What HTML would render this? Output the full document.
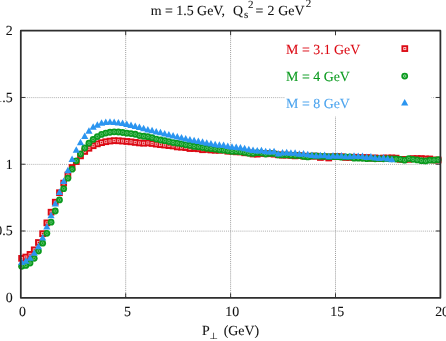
<!DOCTYPE html>
<html lang="en"><head><meta charset="utf-8"><title>plot</title>
<style>
html,body{margin:0;padding:0;background:#fff;overflow:hidden}
body{width:446px;height:341px}
svg{display:block;will-change:transform;transform:translateZ(0);-webkit-font-smoothing:antialiased;text-rendering:geometricPrecision}
</style>
</head><body>
<svg width="446" height="341" viewBox="0 0 446 341">
<rect width="446" height="341" fill="#fff"/>
<g stroke="#9c9c9c" stroke-width="1" stroke-dasharray="1 1" fill="none">
<path d="M21 231.14H440.4" stroke="#a2a2a2" stroke-width="0.85" stroke-dasharray="1 1.05"/>
<path d="M21 164.38H440.4" stroke="#a2a2a2" stroke-width="0.85" stroke-dasharray="1 1.05"/>
<path d="M21 97.61H440.4" stroke="#a2a2a2" stroke-width="0.85" stroke-dasharray="1 1.05"/>
<path d="M125.70 297V30.7" stroke="#909090" stroke-width="0.9" stroke-dasharray="1 1.05"/>
<path d="M230.60 297V30.7" stroke="#909090" stroke-width="0.9" stroke-dasharray="1 1.05"/>
<path d="M335.50 297V30.7" stroke="#909090" stroke-width="0.9" stroke-dasharray="1 1.05"/>
</g>
<rect x="285" y="35.5" width="146.5" height="81" fill="#fff"/>
<g fill="#dc0a14">
<rect x="18.25" y="255.02" width="6.7" height="6.7"/>
<rect x="22.46" y="253.68" width="6.7" height="6.7"/>
<rect x="26.67" y="251.01" width="6.7" height="6.7"/>
<rect x="30.87" y="246.47" width="6.7" height="6.7"/>
<rect x="35.08" y="239.14" width="6.7" height="6.7"/>
<rect x="39.29" y="230.33" width="6.7" height="6.7"/>
<rect x="43.50" y="219.52" width="6.7" height="6.7"/>
<rect x="47.71" y="208.84" width="6.7" height="6.7"/>
<rect x="51.91" y="198.83" width="6.7" height="6.7"/>
<rect x="56.12" y="189.36" width="6.7" height="6.7"/>
<rect x="60.33" y="179.75" width="6.7" height="6.7"/>
<rect x="64.54" y="171.61" width="6.7" height="6.7"/>
<rect x="68.75" y="164.14" width="6.7" height="6.7"/>
<rect x="72.95" y="158.26" width="6.7" height="6.7"/>
<rect x="77.16" y="152.53" width="6.7" height="6.7"/>
<rect x="81.37" y="148.12" width="6.7" height="6.7"/>
<rect x="85.58" y="144.92" width="6.7" height="6.7"/>
<rect x="89.79" y="142.38" width="6.7" height="6.7"/>
<rect x="93.99" y="140.52" width="6.7" height="6.7"/>
<rect x="98.20" y="139.31" width="6.7" height="6.7"/>
<rect x="102.41" y="138.38" width="6.7" height="6.7"/>
<rect x="106.62" y="137.71" width="6.7" height="6.7"/>
<rect x="110.83" y="137.31" width="6.7" height="6.7"/>
<rect x="115.03" y="137.45" width="6.7" height="6.7"/>
<rect x="119.24" y="137.71" width="6.7" height="6.7"/>
<rect x="123.45" y="138.11" width="6.7" height="6.7"/>
<rect x="127.66" y="138.51" width="6.7" height="6.7"/>
<rect x="131.87" y="139.05" width="6.7" height="6.7"/>
<rect x="136.07" y="139.58" width="6.7" height="6.7"/>
<rect x="140.28" y="139.85" width="6.7" height="6.7"/>
<rect x="144.49" y="139.58" width="6.7" height="6.7"/>
<rect x="148.70" y="140.12" width="6.7" height="6.7"/>
<rect x="152.91" y="140.78" width="6.7" height="6.7"/>
<rect x="157.11" y="141.32" width="6.7" height="6.7"/>
<rect x="161.32" y="141.72" width="6.7" height="6.7"/>
<rect x="165.53" y="142.25" width="6.7" height="6.7"/>
<rect x="169.74" y="142.65" width="6.7" height="6.7"/>
<rect x="173.95" y="143.58" width="6.7" height="6.7"/>
<rect x="178.15" y="143.85" width="6.7" height="6.7"/>
<rect x="182.36" y="144.25" width="6.7" height="6.7"/>
<rect x="186.57" y="145.19" width="6.7" height="6.7"/>
<rect x="190.78" y="145.19" width="6.7" height="6.7"/>
<rect x="194.99" y="145.45" width="6.7" height="6.7"/>
<rect x="199.19" y="146.39" width="6.7" height="6.7"/>
<rect x="203.40" y="146.12" width="6.7" height="6.7"/>
<rect x="207.61" y="146.65" width="6.7" height="6.7"/>
<rect x="211.82" y="146.92" width="6.7" height="6.7"/>
<rect x="216.03" y="146.92" width="6.7" height="6.7"/>
<rect x="220.23" y="146.65" width="6.7" height="6.7"/>
<rect x="224.44" y="147.86" width="6.7" height="6.7"/>
<rect x="228.65" y="147.86" width="6.7" height="6.7"/>
<rect x="232.86" y="148.52" width="6.7" height="6.7"/>
<rect x="237.07" y="148.52" width="6.7" height="6.7"/>
<rect x="241.27" y="149.46" width="6.7" height="6.7"/>
<rect x="245.48" y="149.46" width="6.7" height="6.7"/>
<rect x="249.69" y="150.66" width="6.7" height="6.7"/>
<rect x="253.90" y="150.79" width="6.7" height="6.7"/>
<rect x="258.11" y="150.12" width="6.7" height="6.7"/>
<rect x="262.31" y="150.39" width="6.7" height="6.7"/>
<rect x="266.52" y="150.39" width="6.7" height="6.7"/>
<rect x="270.73" y="150.79" width="6.7" height="6.7"/>
<rect x="274.94" y="151.46" width="6.7" height="6.7"/>
<rect x="279.15" y="151.86" width="6.7" height="6.7"/>
<rect x="283.35" y="151.73" width="6.7" height="6.7"/>
<rect x="287.56" y="151.99" width="6.7" height="6.7"/>
<rect x="291.77" y="152.53" width="6.7" height="6.7"/>
<rect x="295.98" y="152.26" width="6.7" height="6.7"/>
<rect x="300.19" y="152.79" width="6.7" height="6.7"/>
<rect x="304.39" y="153.06" width="6.7" height="6.7"/>
<rect x="308.60" y="152.79" width="6.7" height="6.7"/>
<rect x="312.81" y="152.79" width="6.7" height="6.7"/>
<rect x="317.02" y="154.13" width="6.7" height="6.7"/>
<rect x="321.23" y="153.46" width="6.7" height="6.7"/>
<rect x="325.43" y="154.66" width="6.7" height="6.7"/>
<rect x="329.64" y="153.33" width="6.7" height="6.7"/>
<rect x="333.85" y="153.33" width="6.7" height="6.7"/>
<rect x="338.06" y="153.33" width="6.7" height="6.7"/>
<rect x="342.27" y="154.13" width="6.7" height="6.7"/>
<rect x="346.47" y="154.13" width="6.7" height="6.7"/>
<rect x="350.68" y="153.86" width="6.7" height="6.7"/>
<rect x="354.89" y="154.13" width="6.7" height="6.7"/>
<rect x="359.10" y="154.39" width="6.7" height="6.7"/>
<rect x="363.31" y="154.13" width="6.7" height="6.7"/>
<rect x="367.51" y="154.93" width="6.7" height="6.7"/>
<rect x="371.72" y="154.53" width="6.7" height="6.7"/>
<rect x="375.93" y="155.06" width="6.7" height="6.7"/>
<rect x="380.14" y="154.66" width="6.7" height="6.7"/>
<rect x="384.35" y="154.66" width="6.7" height="6.7"/>
<rect x="388.55" y="154.53" width="6.7" height="6.7"/>
<rect x="392.76" y="154.79" width="6.7" height="6.7"/>
<rect x="396.97" y="156.00" width="6.7" height="6.7"/>
<rect x="401.18" y="156.00" width="6.7" height="6.7"/>
<rect x="405.39" y="156.00" width="6.7" height="6.7"/>
<rect x="409.59" y="155.20" width="6.7" height="6.7"/>
<rect x="413.80" y="155.20" width="6.7" height="6.7"/>
<rect x="418.01" y="155.20" width="6.7" height="6.7"/>
<rect x="422.22" y="155.60" width="6.7" height="6.7"/>
<rect x="426.43" y="155.60" width="6.7" height="6.7"/>
<rect x="430.63" y="156.66" width="6.7" height="6.7"/>
<rect x="434.84" y="156.66" width="6.7" height="6.7"/>
<rect x="401.45" y="45.25" width="6.7" height="6.7"/>
</g>
<g fill="none" stroke="#f7b9bc" stroke-width="0.75">
<rect x="20.55" y="257.32" width="2.1" height="2.1"/>
<rect x="24.76" y="255.98" width="2.1" height="2.1"/>
<rect x="28.97" y="253.31" width="2.1" height="2.1"/>
<rect x="33.17" y="248.77" width="2.1" height="2.1"/>
<rect x="37.38" y="241.44" width="2.1" height="2.1"/>
<rect x="41.59" y="232.63" width="2.1" height="2.1"/>
<rect x="45.80" y="221.82" width="2.1" height="2.1"/>
<rect x="50.01" y="211.14" width="2.1" height="2.1"/>
<rect x="54.21" y="201.13" width="2.1" height="2.1"/>
<rect x="58.42" y="191.66" width="2.1" height="2.1"/>
<rect x="62.63" y="182.05" width="2.1" height="2.1"/>
<rect x="66.84" y="173.91" width="2.1" height="2.1"/>
<rect x="71.05" y="166.44" width="2.1" height="2.1"/>
<rect x="75.25" y="160.56" width="2.1" height="2.1"/>
<rect x="79.46" y="154.83" width="2.1" height="2.1"/>
<rect x="83.67" y="150.42" width="2.1" height="2.1"/>
<rect x="87.88" y="147.22" width="2.1" height="2.1"/>
<rect x="92.09" y="144.68" width="2.1" height="2.1"/>
<rect x="96.29" y="142.82" width="2.1" height="2.1"/>
<rect x="100.50" y="141.61" width="2.1" height="2.1"/>
<rect x="104.71" y="140.68" width="2.1" height="2.1"/>
<rect x="108.92" y="140.01" width="2.1" height="2.1"/>
<rect x="113.13" y="139.61" width="2.1" height="2.1"/>
<rect x="117.33" y="139.75" width="2.1" height="2.1"/>
<rect x="121.54" y="140.01" width="2.1" height="2.1"/>
<rect x="125.75" y="140.41" width="2.1" height="2.1"/>
<rect x="129.96" y="140.81" width="2.1" height="2.1"/>
<rect x="134.17" y="141.35" width="2.1" height="2.1"/>
<rect x="138.37" y="141.88" width="2.1" height="2.1"/>
<rect x="142.58" y="142.15" width="2.1" height="2.1"/>
<rect x="146.79" y="141.88" width="2.1" height="2.1"/>
<rect x="151.00" y="142.42" width="2.1" height="2.1"/>
<rect x="155.21" y="143.08" width="2.1" height="2.1"/>
<rect x="159.41" y="143.62" width="2.1" height="2.1"/>
<rect x="163.62" y="144.02" width="2.1" height="2.1"/>
<rect x="167.83" y="144.55" width="2.1" height="2.1"/>
<rect x="172.04" y="144.95" width="2.1" height="2.1"/>
<rect x="176.25" y="145.88" width="2.1" height="2.1"/>
<rect x="180.45" y="146.15" width="2.1" height="2.1"/>
<rect x="184.66" y="146.55" width="2.1" height="2.1"/>
<rect x="188.87" y="147.49" width="2.1" height="2.1"/>
<rect x="193.08" y="147.49" width="2.1" height="2.1"/>
<rect x="197.29" y="147.75" width="2.1" height="2.1"/>
<rect x="201.49" y="148.69" width="2.1" height="2.1"/>
<rect x="205.70" y="148.42" width="2.1" height="2.1"/>
<rect x="209.91" y="148.95" width="2.1" height="2.1"/>
<rect x="214.12" y="149.22" width="2.1" height="2.1"/>
<rect x="218.33" y="149.22" width="2.1" height="2.1"/>
<rect x="222.53" y="148.95" width="2.1" height="2.1"/>
<rect x="226.74" y="150.16" width="2.1" height="2.1"/>
<rect x="230.95" y="150.16" width="2.1" height="2.1"/>
<rect x="235.16" y="150.82" width="2.1" height="2.1"/>
<rect x="239.37" y="150.82" width="2.1" height="2.1"/>
<rect x="243.57" y="151.76" width="2.1" height="2.1"/>
<rect x="247.78" y="151.76" width="2.1" height="2.1"/>
<rect x="251.99" y="152.96" width="2.1" height="2.1"/>
<rect x="256.20" y="153.09" width="2.1" height="2.1"/>
<rect x="260.41" y="152.42" width="2.1" height="2.1"/>
<rect x="264.61" y="152.69" width="2.1" height="2.1"/>
<rect x="268.82" y="152.69" width="2.1" height="2.1"/>
<rect x="273.03" y="153.09" width="2.1" height="2.1"/>
<rect x="277.24" y="153.76" width="2.1" height="2.1"/>
<rect x="281.45" y="154.16" width="2.1" height="2.1"/>
<rect x="285.65" y="154.03" width="2.1" height="2.1"/>
<rect x="289.86" y="154.29" width="2.1" height="2.1"/>
<rect x="294.07" y="154.83" width="2.1" height="2.1"/>
<rect x="298.28" y="154.56" width="2.1" height="2.1"/>
<rect x="302.49" y="155.09" width="2.1" height="2.1"/>
<rect x="306.69" y="155.36" width="2.1" height="2.1"/>
<rect x="310.90" y="155.09" width="2.1" height="2.1"/>
<rect x="315.11" y="155.09" width="2.1" height="2.1"/>
<rect x="319.32" y="156.43" width="2.1" height="2.1"/>
<rect x="323.53" y="155.76" width="2.1" height="2.1"/>
<rect x="327.73" y="156.96" width="2.1" height="2.1"/>
<rect x="331.94" y="155.63" width="2.1" height="2.1"/>
<rect x="336.15" y="155.63" width="2.1" height="2.1"/>
<rect x="340.36" y="155.63" width="2.1" height="2.1"/>
<rect x="344.57" y="156.43" width="2.1" height="2.1"/>
<rect x="348.77" y="156.43" width="2.1" height="2.1"/>
<rect x="352.98" y="156.16" width="2.1" height="2.1"/>
<rect x="357.19" y="156.43" width="2.1" height="2.1"/>
<rect x="361.40" y="156.69" width="2.1" height="2.1"/>
<rect x="365.61" y="156.43" width="2.1" height="2.1"/>
<rect x="369.81" y="157.23" width="2.1" height="2.1"/>
<rect x="374.02" y="156.83" width="2.1" height="2.1"/>
<rect x="378.23" y="157.36" width="2.1" height="2.1"/>
<rect x="382.44" y="156.96" width="2.1" height="2.1"/>
<rect x="386.65" y="156.96" width="2.1" height="2.1"/>
<rect x="390.85" y="156.83" width="2.1" height="2.1"/>
<rect x="395.06" y="157.09" width="2.1" height="2.1"/>
<rect x="399.27" y="158.30" width="2.1" height="2.1"/>
<rect x="403.48" y="158.30" width="2.1" height="2.1"/>
<rect x="407.69" y="158.30" width="2.1" height="2.1"/>
<rect x="411.89" y="157.50" width="2.1" height="2.1"/>
<rect x="416.10" y="157.50" width="2.1" height="2.1"/>
<rect x="420.31" y="157.50" width="2.1" height="2.1"/>
<rect x="424.52" y="157.90" width="2.1" height="2.1"/>
<rect x="428.73" y="157.90" width="2.1" height="2.1"/>
<rect x="432.93" y="158.96" width="2.1" height="2.1"/>
<rect x="437.14" y="158.96" width="2.1" height="2.1"/>
<rect x="403.75" y="47.55" width="2.1" height="2.1" stroke="#fbd9da" stroke-width="0.9"/>
</g>
<g fill="#0a9a1e">
<circle cx="21.60" cy="266.24" r="3.4"/>
<circle cx="25.81" cy="265.44" r="3.4"/>
<circle cx="30.02" cy="263.04" r="3.4"/>
<circle cx="34.22" cy="258.37" r="3.4"/>
<circle cx="38.43" cy="251.03" r="3.4"/>
<circle cx="42.64" cy="243.15" r="3.4"/>
<circle cx="46.85" cy="233.28" r="3.4"/>
<circle cx="51.06" cy="222.20" r="3.4"/>
<circle cx="55.26" cy="210.99" r="3.4"/>
<circle cx="59.47" cy="199.91" r="3.4"/>
<circle cx="63.68" cy="188.70" r="3.4"/>
<circle cx="67.89" cy="178.16" r="3.4"/>
<circle cx="72.10" cy="169.22" r="3.4"/>
<circle cx="76.30" cy="160.81" r="3.4"/>
<circle cx="80.51" cy="154.01" r="3.4"/>
<circle cx="84.72" cy="148.00" r="3.4"/>
<circle cx="88.93" cy="143.20" r="3.4"/>
<circle cx="93.14" cy="139.46" r="3.4"/>
<circle cx="97.34" cy="136.53" r="3.4"/>
<circle cx="101.55" cy="134.39" r="3.4"/>
<circle cx="105.76" cy="133.06" r="3.4"/>
<circle cx="109.97" cy="132.26" r="3.4"/>
<circle cx="114.18" cy="131.86" r="3.4"/>
<circle cx="118.38" cy="131.99" r="3.4"/>
<circle cx="122.59" cy="132.52" r="3.4"/>
<circle cx="126.80" cy="133.19" r="3.4"/>
<circle cx="131.01" cy="133.59" r="3.4"/>
<circle cx="135.22" cy="134.26" r="3.4"/>
<circle cx="139.42" cy="135.59" r="3.4"/>
<circle cx="143.63" cy="136.26" r="3.4"/>
<circle cx="147.84" cy="136.66" r="3.4"/>
<circle cx="152.05" cy="137.73" r="3.4"/>
<circle cx="156.26" cy="139.06" r="3.4"/>
<circle cx="160.46" cy="140.00" r="3.4"/>
<circle cx="164.67" cy="140.66" r="3.4"/>
<circle cx="168.88" cy="141.60" r="3.4"/>
<circle cx="173.09" cy="142.53" r="3.4"/>
<circle cx="177.30" cy="143.20" r="3.4"/>
<circle cx="181.50" cy="143.87" r="3.4"/>
<circle cx="185.71" cy="144.80" r="3.4"/>
<circle cx="189.92" cy="145.47" r="3.4"/>
<circle cx="194.13" cy="146.40" r="3.4"/>
<circle cx="198.34" cy="146.80" r="3.4"/>
<circle cx="202.54" cy="147.60" r="3.4"/>
<circle cx="206.75" cy="148.27" r="3.4"/>
<circle cx="210.96" cy="148.67" r="3.4"/>
<circle cx="215.17" cy="149.20" r="3.4"/>
<circle cx="219.38" cy="149.74" r="3.4"/>
<circle cx="223.58" cy="150.14" r="3.4"/>
<circle cx="227.79" cy="150.81" r="3.4"/>
<circle cx="232.00" cy="151.47" r="3.4"/>
<circle cx="236.21" cy="151.47" r="3.4"/>
<circle cx="240.42" cy="151.87" r="3.4"/>
<circle cx="244.62" cy="152.41" r="3.4"/>
<circle cx="248.83" cy="153.34" r="3.4"/>
<circle cx="253.04" cy="153.47" r="3.4"/>
<circle cx="257.25" cy="152.67" r="3.4"/>
<circle cx="261.46" cy="153.07" r="3.4"/>
<circle cx="265.66" cy="154.01" r="3.4"/>
<circle cx="269.87" cy="153.47" r="3.4"/>
<circle cx="274.08" cy="153.61" r="3.4"/>
<circle cx="278.29" cy="154.94" r="3.4"/>
<circle cx="282.50" cy="154.94" r="3.4"/>
<circle cx="286.70" cy="154.94" r="3.4"/>
<circle cx="290.91" cy="155.34" r="3.4"/>
<circle cx="295.12" cy="155.61" r="3.4"/>
<circle cx="299.33" cy="155.61" r="3.4"/>
<circle cx="303.54" cy="156.41" r="3.4"/>
<circle cx="307.74" cy="156.94" r="3.4"/>
<circle cx="311.95" cy="156.01" r="3.4"/>
<circle cx="316.16" cy="156.01" r="3.4"/>
<circle cx="320.37" cy="156.41" r="3.4"/>
<circle cx="324.58" cy="156.41" r="3.4"/>
<circle cx="328.78" cy="156.68" r="3.4"/>
<circle cx="332.99" cy="156.68" r="3.4"/>
<circle cx="337.20" cy="156.68" r="3.4"/>
<circle cx="341.41" cy="157.21" r="3.4"/>
<circle cx="345.62" cy="156.94" r="3.4"/>
<circle cx="349.82" cy="156.94" r="3.4"/>
<circle cx="354.03" cy="158.14" r="3.4"/>
<circle cx="358.24" cy="158.14" r="3.4"/>
<circle cx="362.45" cy="158.28" r="3.4"/>
<circle cx="366.66" cy="158.68" r="3.4"/>
<circle cx="370.86" cy="158.41" r="3.4"/>
<circle cx="375.07" cy="158.81" r="3.4"/>
<circle cx="379.28" cy="158.55" r="3.4"/>
<circle cx="383.49" cy="158.81" r="3.4"/>
<circle cx="387.70" cy="158.68" r="3.4"/>
<circle cx="391.90" cy="158.81" r="3.4"/>
<circle cx="396.11" cy="159.00" r="3.4"/>
<circle cx="400.32" cy="159.35" r="3.4"/>
<circle cx="404.53" cy="160.15" r="3.4"/>
<circle cx="408.74" cy="158.55" r="3.4"/>
<circle cx="412.94" cy="159.35" r="3.4"/>
<circle cx="417.15" cy="159.88" r="3.4"/>
<circle cx="421.36" cy="160.68" r="3.4"/>
<circle cx="425.57" cy="160.95" r="3.4"/>
<circle cx="429.78" cy="160.15" r="3.4"/>
<circle cx="433.98" cy="160.15" r="3.4"/>
<circle cx="438.19" cy="159.75" r="3.4"/>
<circle cx="404.7" cy="76.1" r="3.4"/>
</g>
<g fill="none" stroke="#74cb82" stroke-width="0.7">
<circle cx="21.60" cy="266.24" r="1.25"/>
<circle cx="25.81" cy="265.44" r="1.25"/>
<circle cx="30.02" cy="263.04" r="1.25"/>
<circle cx="34.22" cy="258.37" r="1.25"/>
<circle cx="38.43" cy="251.03" r="1.25"/>
<circle cx="42.64" cy="243.15" r="1.25"/>
<circle cx="46.85" cy="233.28" r="1.25"/>
<circle cx="51.06" cy="222.20" r="1.25"/>
<circle cx="55.26" cy="210.99" r="1.25"/>
<circle cx="59.47" cy="199.91" r="1.25"/>
<circle cx="63.68" cy="188.70" r="1.25"/>
<circle cx="67.89" cy="178.16" r="1.25"/>
<circle cx="72.10" cy="169.22" r="1.25"/>
<circle cx="76.30" cy="160.81" r="1.25"/>
<circle cx="80.51" cy="154.01" r="1.25"/>
<circle cx="84.72" cy="148.00" r="1.25"/>
<circle cx="88.93" cy="143.20" r="1.25"/>
<circle cx="93.14" cy="139.46" r="1.25"/>
<circle cx="97.34" cy="136.53" r="1.25"/>
<circle cx="101.55" cy="134.39" r="1.25"/>
<circle cx="105.76" cy="133.06" r="1.25"/>
<circle cx="109.97" cy="132.26" r="1.25"/>
<circle cx="114.18" cy="131.86" r="1.25"/>
<circle cx="118.38" cy="131.99" r="1.25"/>
<circle cx="122.59" cy="132.52" r="1.25"/>
<circle cx="126.80" cy="133.19" r="1.25"/>
<circle cx="131.01" cy="133.59" r="1.25"/>
<circle cx="135.22" cy="134.26" r="1.25"/>
<circle cx="139.42" cy="135.59" r="1.25"/>
<circle cx="143.63" cy="136.26" r="1.25"/>
<circle cx="147.84" cy="136.66" r="1.25"/>
<circle cx="152.05" cy="137.73" r="1.25"/>
<circle cx="156.26" cy="139.06" r="1.25"/>
<circle cx="160.46" cy="140.00" r="1.25"/>
<circle cx="164.67" cy="140.66" r="1.25"/>
<circle cx="168.88" cy="141.60" r="1.25"/>
<circle cx="173.09" cy="142.53" r="1.25"/>
<circle cx="177.30" cy="143.20" r="1.25"/>
<circle cx="181.50" cy="143.87" r="1.25"/>
<circle cx="185.71" cy="144.80" r="1.25"/>
<circle cx="189.92" cy="145.47" r="1.25"/>
<circle cx="194.13" cy="146.40" r="1.25"/>
<circle cx="198.34" cy="146.80" r="1.25"/>
<circle cx="202.54" cy="147.60" r="1.25"/>
<circle cx="206.75" cy="148.27" r="1.25"/>
<circle cx="210.96" cy="148.67" r="1.25"/>
<circle cx="215.17" cy="149.20" r="1.25"/>
<circle cx="219.38" cy="149.74" r="1.25"/>
<circle cx="223.58" cy="150.14" r="1.25"/>
<circle cx="227.79" cy="150.81" r="1.25"/>
<circle cx="232.00" cy="151.47" r="1.25"/>
<circle cx="236.21" cy="151.47" r="1.25"/>
<circle cx="240.42" cy="151.87" r="1.25"/>
<circle cx="244.62" cy="152.41" r="1.25"/>
<circle cx="248.83" cy="153.34" r="1.25"/>
<circle cx="253.04" cy="153.47" r="1.25"/>
<circle cx="257.25" cy="152.67" r="1.25"/>
<circle cx="261.46" cy="153.07" r="1.25"/>
<circle cx="265.66" cy="154.01" r="1.25"/>
<circle cx="269.87" cy="153.47" r="1.25"/>
<circle cx="274.08" cy="153.61" r="1.25"/>
<circle cx="278.29" cy="154.94" r="1.25"/>
<circle cx="282.50" cy="154.94" r="1.25"/>
<circle cx="286.70" cy="154.94" r="1.25"/>
<circle cx="290.91" cy="155.34" r="1.25"/>
<circle cx="295.12" cy="155.61" r="1.25"/>
<circle cx="299.33" cy="155.61" r="1.25"/>
<circle cx="303.54" cy="156.41" r="1.25"/>
<circle cx="307.74" cy="156.94" r="1.25"/>
<circle cx="311.95" cy="156.01" r="1.25"/>
<circle cx="316.16" cy="156.01" r="1.25"/>
<circle cx="320.37" cy="156.41" r="1.25"/>
<circle cx="324.58" cy="156.41" r="1.25"/>
<circle cx="328.78" cy="156.68" r="1.25"/>
<circle cx="332.99" cy="156.68" r="1.25"/>
<circle cx="337.20" cy="156.68" r="1.25"/>
<circle cx="341.41" cy="157.21" r="1.25"/>
<circle cx="345.62" cy="156.94" r="1.25"/>
<circle cx="349.82" cy="156.94" r="1.25"/>
<circle cx="354.03" cy="158.14" r="1.25"/>
<circle cx="358.24" cy="158.14" r="1.25"/>
<circle cx="362.45" cy="158.28" r="1.25"/>
<circle cx="366.66" cy="158.68" r="1.25"/>
<circle cx="370.86" cy="158.41" r="1.25"/>
<circle cx="375.07" cy="158.81" r="1.25"/>
<circle cx="379.28" cy="158.55" r="1.25"/>
<circle cx="383.49" cy="158.81" r="1.25"/>
<circle cx="387.70" cy="158.68" r="1.25"/>
<circle cx="391.90" cy="158.81" r="1.25"/>
<circle cx="396.11" cy="159.00" r="1.25"/>
<circle cx="400.32" cy="159.35" r="1.25"/>
<circle cx="404.53" cy="160.15" r="1.25"/>
<circle cx="408.74" cy="158.55" r="1.25"/>
<circle cx="412.94" cy="159.35" r="1.25"/>
<circle cx="417.15" cy="159.88" r="1.25"/>
<circle cx="421.36" cy="160.68" r="1.25"/>
<circle cx="425.57" cy="160.95" r="1.25"/>
<circle cx="429.78" cy="160.15" r="1.25"/>
<circle cx="433.98" cy="160.15" r="1.25"/>
<circle cx="438.19" cy="159.75" r="1.25"/>
<circle cx="404.7" cy="76.1" r="1.25" stroke="#a9e0b1" stroke-width="0.9"/>
</g>
<g fill="#2b95f0">
<path d="M21.60 258.54l3.6 6.5h-7.2z"/>
<path d="M25.81 257.34l3.6 6.5h-7.2z"/>
<path d="M30.02 254.27l3.6 6.5h-7.2z"/>
<path d="M34.22 249.33l3.6 6.5h-7.2z"/>
<path d="M38.43 242.66l3.6 6.5h-7.2z"/>
<path d="M42.64 233.91l3.6 6.5h-7.2z"/>
<path d="M46.85 222.97l3.6 6.5h-7.2z"/>
<path d="M51.06 211.83l3.6 6.5h-7.2z"/>
<path d="M55.26 199.95l3.6 6.5h-7.2z"/>
<path d="M59.47 188.48l3.6 6.5h-7.2z"/>
<path d="M63.68 177.53l3.6 6.5h-7.2z"/>
<path d="M67.89 166.86l3.6 6.5h-7.2z"/>
<path d="M72.10 155.51l3.6 6.5h-7.2z"/>
<path d="M76.30 146.17l3.6 6.5h-7.2z"/>
<path d="M80.51 138.83l3.6 6.5h-7.2z"/>
<path d="M84.72 132.56l3.6 6.5h-7.2z"/>
<path d="M88.93 127.36l3.6 6.5h-7.2z"/>
<path d="M93.14 123.22l3.6 6.5h-7.2z"/>
<path d="M97.34 121.22l3.6 6.5h-7.2z"/>
<path d="M101.55 119.35l3.6 6.5h-7.2z"/>
<path d="M105.76 118.55l3.6 6.5h-7.2z"/>
<path d="M109.97 118.28l3.6 6.5h-7.2z"/>
<path d="M114.18 118.55l3.6 6.5h-7.2z"/>
<path d="M118.38 118.95l3.6 6.5h-7.2z"/>
<path d="M122.59 119.48l3.6 6.5h-7.2z"/>
<path d="M126.80 120.55l3.6 6.5h-7.2z"/>
<path d="M131.01 121.48l3.6 6.5h-7.2z"/>
<path d="M135.22 122.42l3.6 6.5h-7.2z"/>
<path d="M139.42 123.49l3.6 6.5h-7.2z"/>
<path d="M143.63 124.69l3.6 6.5h-7.2z"/>
<path d="M147.84 125.89l3.6 6.5h-7.2z"/>
<path d="M152.05 126.82l3.6 6.5h-7.2z"/>
<path d="M156.26 127.89l3.6 6.5h-7.2z"/>
<path d="M160.46 128.82l3.6 6.5h-7.2z"/>
<path d="M164.67 129.89l3.6 6.5h-7.2z"/>
<path d="M168.88 130.96l3.6 6.5h-7.2z"/>
<path d="M173.09 132.03l3.6 6.5h-7.2z"/>
<path d="M177.30 133.09l3.6 6.5h-7.2z"/>
<path d="M181.50 133.89l3.6 6.5h-7.2z"/>
<path d="M185.71 134.96l3.6 6.5h-7.2z"/>
<path d="M189.92 135.90l3.6 6.5h-7.2z"/>
<path d="M194.13 136.83l3.6 6.5h-7.2z"/>
<path d="M198.34 137.50l3.6 6.5h-7.2z"/>
<path d="M202.54 138.16l3.6 6.5h-7.2z"/>
<path d="M206.75 139.23l3.6 6.5h-7.2z"/>
<path d="M210.96 139.90l3.6 6.5h-7.2z"/>
<path d="M215.17 140.70l3.6 6.5h-7.2z"/>
<path d="M219.38 141.37l3.6 6.5h-7.2z"/>
<path d="M223.58 141.50l3.6 6.5h-7.2z"/>
<path d="M227.79 142.57l3.6 6.5h-7.2z"/>
<path d="M232.00 143.24l3.6 6.5h-7.2z"/>
<path d="M236.21 143.50l3.6 6.5h-7.2z"/>
<path d="M240.42 144.04l3.6 6.5h-7.2z"/>
<path d="M244.62 144.70l3.6 6.5h-7.2z"/>
<path d="M248.83 145.77l3.6 6.5h-7.2z"/>
<path d="M253.04 146.44l3.6 6.5h-7.2z"/>
<path d="M257.25 147.11l3.6 6.5h-7.2z"/>
<path d="M261.46 146.84l3.6 6.5h-7.2z"/>
<path d="M265.66 147.77l3.6 6.5h-7.2z"/>
<path d="M269.87 147.91l3.6 6.5h-7.2z"/>
<path d="M274.08 147.77l3.6 6.5h-7.2z"/>
<path d="M278.29 149.91l3.6 6.5h-7.2z"/>
<path d="M282.50 149.11l3.6 6.5h-7.2z"/>
<path d="M286.70 148.71l3.6 6.5h-7.2z"/>
<path d="M290.91 149.37l3.6 6.5h-7.2z"/>
<path d="M295.12 149.37l3.6 6.5h-7.2z"/>
<path d="M299.33 150.31l3.6 6.5h-7.2z"/>
<path d="M303.54 150.04l3.6 6.5h-7.2z"/>
<path d="M307.74 150.71l3.6 6.5h-7.2z"/>
<path d="M311.95 151.38l3.6 6.5h-7.2z"/>
<path d="M316.16 151.91l3.6 6.5h-7.2z"/>
<path d="M320.37 151.64l3.6 6.5h-7.2z"/>
<path d="M324.58 151.38l3.6 6.5h-7.2z"/>
<path d="M328.78 152.71l3.6 6.5h-7.2z"/>
<path d="M332.99 151.91l3.6 6.5h-7.2z"/>
<path d="M337.20 152.31l3.6 6.5h-7.2z"/>
<path d="M341.41 151.91l3.6 6.5h-7.2z"/>
<path d="M345.62 152.71l3.6 6.5h-7.2z"/>
<path d="M349.82 152.71l3.6 6.5h-7.2z"/>
<path d="M354.03 152.31l3.6 6.5h-7.2z"/>
<path d="M358.24 152.44l3.6 6.5h-7.2z"/>
<path d="M362.45 152.58l3.6 6.5h-7.2z"/>
<path d="M366.66 153.51l3.6 6.5h-7.2z"/>
<path d="M370.86 153.11l3.6 6.5h-7.2z"/>
<path d="M375.07 154.05l3.6 6.5h-7.2z"/>
<path d="M379.28 154.45l3.6 6.5h-7.2z"/>
<path d="M383.49 154.05l3.6 6.5h-7.2z"/>
<path d="M387.70 155.11l3.6 6.5h-7.2z"/>
<path d="M391.90 155.65l3.6 6.5h-7.2z"/>
<path d="M404.70 99.10l3.6 6.5h-7.2z"/>
</g>
<g stroke="#2e2e2e" stroke-width="0.95" fill="none">
<path d="M20.8 230.99h4.5M440.4 230.99h-4.5"/>
<path d="M20.8 164.22h4.5M440.4 164.22h-4.5"/>
<path d="M20.8 97.46h4.5M440.4 97.46h-4.5"/>
<path d="M125.70 297.75v-4.5M125.70 30.7v4.5"/>
<path d="M230.60 297.75v-4.5M230.60 30.7v4.5"/>
<path d="M335.50 297.75v-4.5M335.50 30.7v4.5"/>
</g>
<rect x="20.8" y="30.7" width="419.60" height="267.05" fill="none" stroke="#2e2e2e" stroke-width="1.75" stroke-linejoin="round"/>
<g font-family="'Liberation Serif', 'DejaVu Serif', serif" font-size="13.9" fill="#111" stroke="#111" stroke-width="0.08">
<text x="12.6" y="302.25" text-anchor="end">0</text>
<text x="12.6" y="235.49" text-anchor="end">0.5</text>
<text x="12.6" y="168.72" text-anchor="end">1</text>
<text x="12.6" y="101.96" text-anchor="end">1.5</text>
<text x="12.6" y="35.20" text-anchor="end">2</text>
<text x="22.50" y="316.1" text-anchor="middle">0</text>
<text x="127.40" y="316.1" text-anchor="middle">5</text>
<text x="232.30" y="316.1" text-anchor="middle">10</text>
<text x="337.20" y="316.1" text-anchor="middle">15</text>
<text x="442.10" y="316.1" text-anchor="middle">20</text>
<text x="150.7" y="15.1">m = 1.5 GeV,</text>
<text x="233.0" y="15.1">Q</text>
<text x="243.9" y="17.9" font-size="11.0">s</text>
<text x="247.9" y="8.399999999999999" font-size="11.0">2</text>
<text x="255.4" y="15.1">=</text>
<text x="267.6" y="15.1">2</text>
<text x="278.2" y="15.1">GeV</text>
<text x="305.8" y="7.1" font-size="11.0">2</text>
<text x="202.1" y="335.0">P</text>
<text transform="translate(209.6 339.2) scale(1 0.92)" font-size="9.6" font-family="'DejaVu Sans', sans-serif">⊥</text>
<text x="223.7" y="335.0">(GeV)</text>
</g>
<g font-family="'Liberation Serif', 'DejaVu Serif', serif" font-size="13.9" stroke-width="0.08">
<text x="286.1" y="53.6" fill="#dc0a14" stroke="#dc0a14">M = 3.1 GeV</text>
<text x="286.1" y="80.6" fill="#0a9a1e" stroke="#0a9a1e">M = 4 GeV</text>
<text x="286.1" y="107.8" fill="#4aa3ee" stroke="#4aa3ee">M = 8 GeV</text>
</g>
</svg>
</body></html>
